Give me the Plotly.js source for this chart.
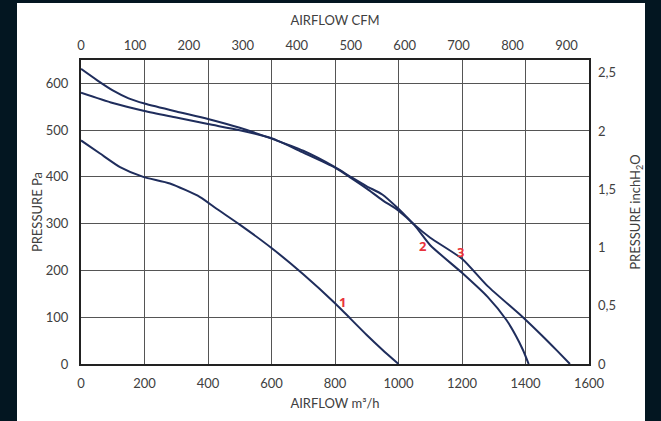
<!DOCTYPE html>
<html>
<head>
<meta charset="utf-8">
<script src="https://cdn.plot.ly/plotly-3.0.1.min.js"></script>
<style>
  html, body { margin:0; padding:0; background:#031621; width:661px; height:421px; overflow:hidden; }
  #chart { position:absolute; left:17px; top:3px; width:628px; height:418px; }
</style>
</head>
<body>
<div id="chart"></div>
<script>
// Curve 1
const c1x = [0, 60, 123, 196, 280, 375, 427, 500, 600, 700, 800, 850, 900, 950, 1000];
const c1y = [478, 450, 421, 400, 386, 357, 332, 298, 248, 192, 130, 96, 62, 30, 0];
// Curve 2
const c2x = [0, 100, 200, 300, 400, 500, 600, 700, 800, 850, 900, 950, 1000, 1050, 1100, 1200, 1280, 1340, 1370, 1392, 1410];
const c2y = [580, 558, 541, 527, 513, 500, 483, 452, 420, 398, 375, 350, 328, 297, 254, 195, 144, 94, 60, 30, 0];
// Curve 3
const c3x = [0, 50, 100, 150, 200, 300, 400, 500, 600, 700, 800, 850, 900, 950, 1000, 1050, 1100, 1200, 1280, 1390, 1450, 1500, 1540];
const c3y = [631, 607, 585, 568, 557, 540, 524, 505, 482, 456, 421, 400, 380, 362, 332, 298, 270, 225, 167, 101, 62, 28, 0];
// Labels
const labelText = ["1", "2", "3"];
const labelX = [825, 1077, 1194];
const labelY = [132, 252, 239];
// Axis ticks
const xTicks = [0, 200, 400, 600, 800, 1000, 1200, 1400, 1600];
const yTicks = [0, 100, 200, 300, 400, 500, 600];
const cfmTicks = [0, 100, 200, 300, 400, 500, 600, 700, 800, 900];
const inchTicks = [0, 0.5, 1, 1.5, 2, 2.5];
const inchText = ["0", "0,5", "1", "1,5", "2", "2,5"];

const M3H_PER_CFM = 1.699;
const PA_PER_INCH = 249.09;
const xMax = 1600, yMax = 650;

const lineStyle = {color: '#1f2d5c', width: 2, shape: 'spline', smoothing: 0.6};
const traces = [
  {x: c1x, y: c1y, mode: 'lines', line: lineStyle, hoverinfo: 'skip'},
  {x: c2x, y: c2y, mode: 'lines', line: lineStyle, hoverinfo: 'skip'},
  {x: c3x, y: c3y, mode: 'lines', line: lineStyle, hoverinfo: 'skip'},
  {x: [0], y: [0], xaxis: 'x2', yaxis: 'y2', mode: 'markers', marker: {opacity: 0}, hoverinfo: 'skip'}
];

const font = {family: 'Lato, "Open Sans", sans-serif', size: 13, color: '#404040'};

const layout = {
  width: 628, height: 418,
  margin: {l: 64, r: 56, t: 57, b: 57},
  paper_bgcolor: '#ffffff', plot_bgcolor: '#ffffff',
  showlegend: false,
  font: font,
  xaxis: {
    range: [0, xMax], tickvals: xTicks, ticktext: xTicks.map(String),
    showgrid: true, gridcolor: '#555555', gridwidth: 1,
    showline: true, linecolor: '#222222', linewidth: 2, mirror: true,
    zeroline: false, ticks: '', ticklabelstandoff: 6,
    title: {text: 'AIRFLOW m³/h', font: font, standoff: 9}
  },
  yaxis: {
    range: [0, yMax], tickvals: yTicks, ticktext: yTicks.map(String),
    showgrid: true, gridcolor: '#555555', gridwidth: 1,
    showline: true, linecolor: '#222222', linewidth: 2, mirror: true,
    zeroline: false, ticks: '', ticklabelstandoff: 8,
    title: {text: 'PRESSURE Pa', font: font, standoff: 0}
  },
  xaxis2: {
    overlaying: 'x', side: 'top', anchor: 'y',
    range: [0, xMax / M3H_PER_CFM], tickvals: cfmTicks, ticktext: cfmTicks.map(String),
    showgrid: false, zeroline: false, ticks: '', ticklabelstandoff: 6,
    title: {text: 'AIRFLOW CFM', font: font, standoff: 8}
  },
  yaxis2: {
    overlaying: 'y', side: 'right', anchor: 'x',
    range: [0, yMax / PA_PER_INCH], tickvals: inchTicks, ticktext: inchText,
    showgrid: false, zeroline: false, ticks: '', ticklabelstandoff: 8,
    title: {text: 'PRESSURE inchH<sub>2</sub>O', font: font, standoff: 17}
  },
  annotations: labelText.map((t, i) => ({
    x: labelX[i], y: labelY[i], xref: 'x', yref: 'y', text: '<b>' + t + '</b>',
    showarrow: false, font: {family: '"Open Sans", sans-serif', size: 13, color: '#e8333b'}
  }))
};

Plotly.newPlot('chart', traces, layout, {displayModeBar: false, staticPlot: true});
</script>
</body>
</html>
